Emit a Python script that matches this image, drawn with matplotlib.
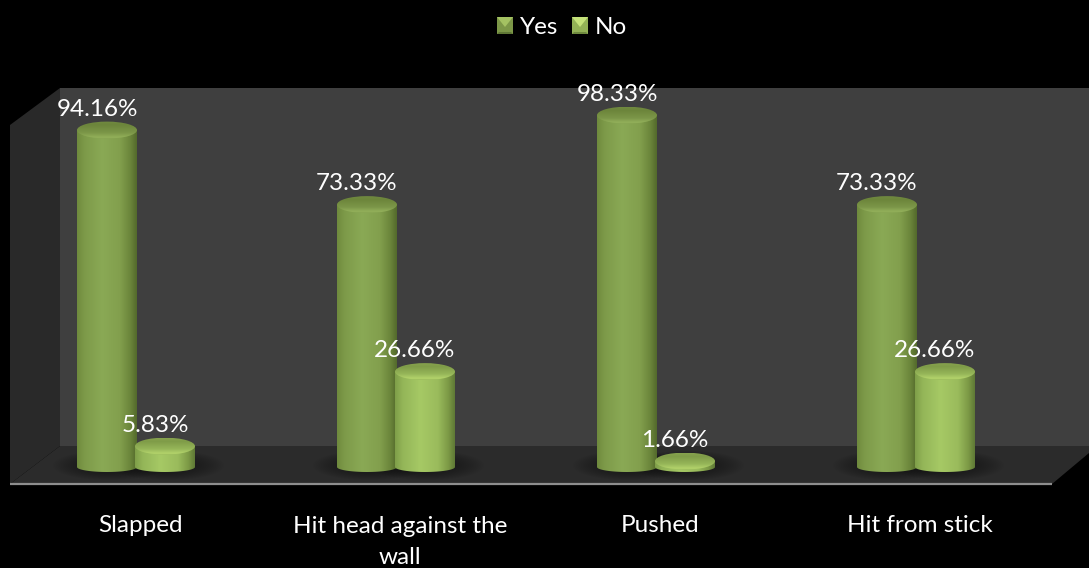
import numpy as np
import matplotlib
matplotlib.use('Agg')
import matplotlib.pyplot as plt
from matplotlib.colors import LinearSegmentedColormap
from matplotlib.patches import Ellipse, Polygon, PathPatch
from matplotlib.path import Path
from matplotlib.transforms import Affine2D

categories = ['Slapped', 'Hit head against the\nwall', 'Pushed', 'Hit from stick']
series_names = ['Yes', 'No']
yes_values = [94.16, 73.33, 98.33, 73.33]
no_values = [5.83, 26.66, 1.66, 26.66]

W, H = 1089, 568
plt.rcParams['font.family'] = ['Lato', 'DejaVu Sans']

# scale of the chart
group_px = 260.0   # pixels per category
unit_px = 3.578    # pixels per percent
x0_px, y0_px = 136.0, 467.0
bar_w = 60 / group_px
bar_off = 29 / group_px
cap_h = 2 * 8.5 / unit_px
base_h = 5 / unit_px
font_size = 17.5

fig = plt.figure(figsize=(W / 100, H / 100), dpi=100, facecolor='black')
ax = fig.add_axes([0, 0, 1, 1])
xlim = (-x0_px / group_px, (W - x0_px) / group_px)
ylim = ((y0_px - H) / unit_px, y0_px / unit_px)
ax.axis('off')

# pixel coordinates for the box around the plot
px = Affine2D().scale(1 / W, -1 / H).translate(0, 1) + fig.transFigure

back = Polygon([(60, 88), (W, 88), (W, 446), (60, 446)], fc='#3f3f3f', ec='none', transform=px, zorder=1)
side = Polygon([(10, 125), (60, 88), (60, 446), (10, 484)], fc='#292929', ec='none', transform=px, zorder=1)
floor = Polygon([(10, 484), (60, 446), (W, 446), (W, 453), (1052, 484)], fc='#2b2b2b', ec='none', transform=px, zorder=1)
ax.add_patch(back)
ax.add_patch(side)
ax.add_patch(floor)
ax.plot([10, 1052], [483.5, 483.5], color='#8e8e8e', lw=1.6, transform=px, zorder=2, solid_capstyle='butt')

yes_body = LinearSegmentedColormap.from_list('yes_body', [(0, '#6f8a3e'), (.12, '#7d9a49'), (.42, '#8aa955'), (.72, '#829f4d'), (.9, '#6a843a'), (1, '#536a2c')])
no_body = LinearSegmentedColormap.from_list('no_body', [(0, '#7f9f49'), (.12, '#93b558'), (.42, '#a6c965'), (.72, '#9abb5c'), (.9, '#7b9845'), (1, '#5f7a36')])
yes_cap = LinearSegmentedColormap.from_list('yes_cap', [(0, '#86a251'), (.08, '#93b05a'), (.35, '#7b9648'), (.8, '#6c853b'), (1, '#718a40')])
no_cap = LinearSegmentedColormap.from_list('no_cap', [(0, '#98b95b'), (.08, '#b4d46b'), (.35, '#96b659'), (.8, '#7f9c48'), (1, '#86a24e')])


def draw_shadow(x, clip):
    # soft dark patch on the floor below the bar
    gx = np.linspace(-1, 1, 80)
    gy = np.linspace(-1, 1, 30)
    xx, yy = np.meshgrid(gx, gy)
    alpha = np.clip(1 - xx ** 2 - yy ** 2, 0, 1) * .45
    rgba = np.zeros((30, 80, 4))
    rgba[..., 3] = alpha
    im = ax.imshow(rgba, extent=(x - .21, x + .23, -3.8, 4.7), aspect='auto', zorder=3, interpolation='bilinear')
    im.set_clip_path(clip)


def draw_cylinder(x, value, body_cmap, cap_cmap, zorder):
    t = np.linspace(0, np.pi, 60)
    # side of the cylinder: straight edges with the rounded base
    verts = [(x - bar_w / 2, value)]
    verts += [(x - bar_w / 2 * np.cos(a), -base_h * np.sin(a)) for a in t]
    verts += [(x + bar_w / 2, value), (x - bar_w / 2, value)]
    codes = [Path.MOVETO] + [Path.LINETO] * (len(verts) - 2) + [Path.CLOSEPOLY]
    clip = PathPatch(Path(verts, codes), fc='none', ec='none', transform=ax.transData)
    ax.add_patch(clip)
    grad = np.linspace(0, 1, 120).reshape(1, -1)
    im = ax.imshow(grad, cmap=body_cmap, extent=(x - bar_w / 2, x + bar_w / 2, -base_h, value), aspect='auto',
                   zorder=zorder, interpolation='bilinear')
    im.set_clip_path(clip)

    # top of the cylinder, darker towards the back with a bright front rim
    cap = Ellipse((x, value), bar_w, cap_h, fc='none', ec='none', transform=ax.transData)
    ax.add_patch(cap)
    grad = np.linspace(0, 1, 60).reshape(-1, 1)
    im = ax.imshow(grad, cmap=cap_cmap, extent=(x - bar_w / 2, x + bar_w / 2, value - cap_h / 2, value + cap_h / 2),
                   aspect='auto', origin='lower', zorder=zorder + .1, interpolation='bilinear')
    im.set_clip_path(cap)


def put_label(x, value):
    ax.annotate(f'{value:.2f}%', (x, value), xytext=(-10 * .72, 21 * .72), textcoords='offset points',
                ha='center', va='center', color='white', fontsize=font_size, zorder=20)


for i in range(len(categories)):
    draw_shadow(i - bar_off, floor)
    draw_shadow(i + bar_off, floor)

for i in range(len(categories)):
    z = 5 + i
    draw_cylinder(i - bar_off, yes_values[i], yes_body, yes_cap, z)
    draw_cylinder(i + bar_off, no_values[i], no_body, no_cap, z + .3)

for i in range(len(categories)):
    put_label(i - bar_off, yes_values[i])
    put_label(i + bar_off, no_values[i])
    # two line labels sit lower so the first line stays level with the others
    label_y = 542 if '\n' in categories[i] else 526
    ax.annotate(categories[i], (i, 0), xytext=(4 * .72, -(label_y - y0_px) * .72), textcoords='offset points',
                ha='center', va='center', color='white', fontsize=font_size, zorder=20, linespacing=1.55)

# legend keys with a bevelled look
key_colors = [('#7c9747', '#a4c262', '#5f7735'), ('#93b256', '#c5e27a', '#6f8a3e')]
for name, left, text_x, colors in zip(series_names, [497, 572], [520, 595], key_colors):
    r, t, b = left + 16, 17, 34
    ax.add_patch(Polygon([(left, t), (r, t), (r, b), (left, b)], fc=colors[0], ec='none', transform=px, zorder=20))
    ax.add_patch(Polygon([(left, t), (r, t), (left + 8, t + 10)], fc=colors[1], ec='none', transform=px, zorder=21))
    ax.add_patch(Polygon([(left, b), (r, b), (r - 2, b - 2), (left + 2, b - 2)], fc=colors[2], ec='none', transform=px, zorder=21))
    ax.text(text_x, 27, name, color='white', fontsize=font_size, ha='left', va='center', transform=px, zorder=21)

ax.set_xlim(xlim)
ax.set_ylim(ylim)
fig.savefig('out.png', dpi=100, facecolor='black')
